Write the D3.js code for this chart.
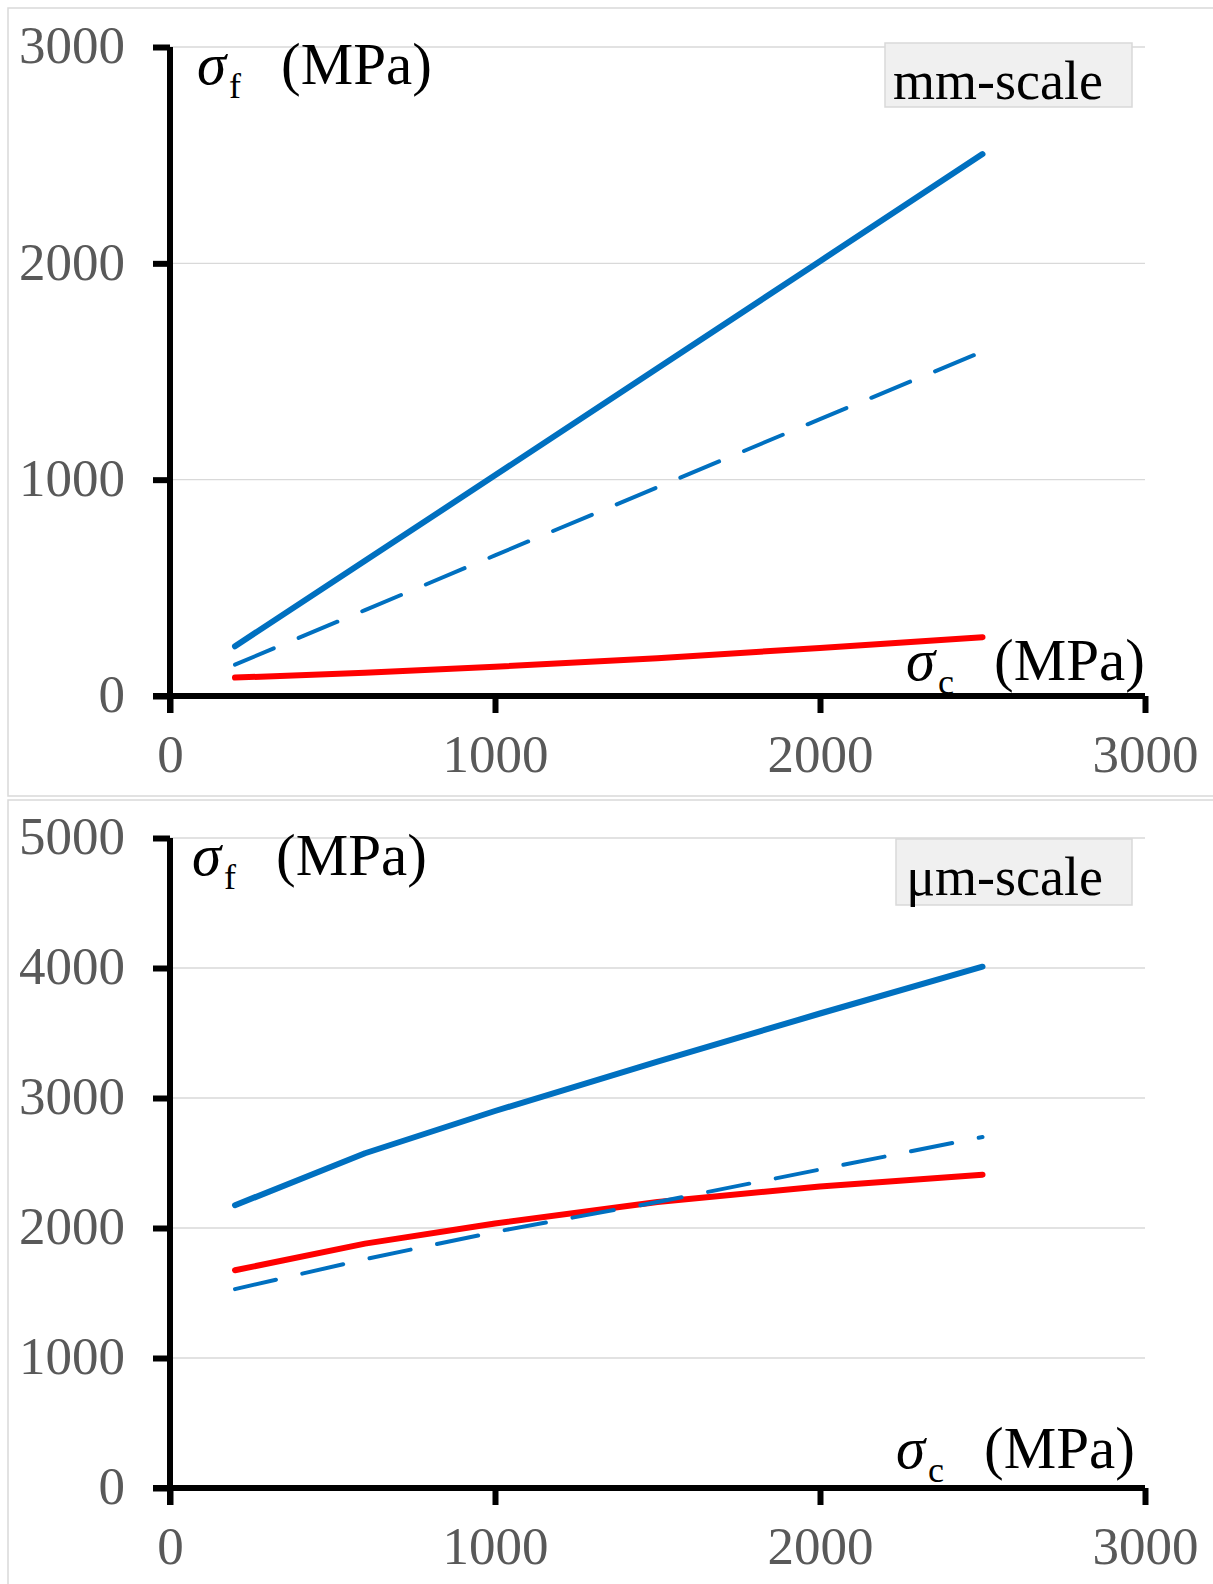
<!DOCTYPE html>
<html><head><meta charset="utf-8">
<script src="https://cdn.jsdelivr.net/npm/d3@7"></script>
<style>body{margin:0;background:#fff}svg{display:block}</style>
</head><body>
<svg id="c" width="1213" height="1584"></svg>
<script>
// ---- data ----
const xValues = [200, 600, 1000, 1500, 2000, 2500];
const xTicks = [0, 1000, 2000, 3000];
// mm-scale panel
const mmSolidBlue = [230, 625, 1020, 1515, 2010, 2505];
const mmDashedBlue = [145, 397, 650, 965, 1280, 1592];
const mmRed = [85, 108, 135, 175, 222, 272];
const mmYTicks = [0, 1000, 2000, 3000];
// µm-scale panel
const umSolidBlue = [2175, 2575, 2900, 3280, 3650, 4010];
const umDashedBlue = [1530, 1760, 1970, 2200, 2450, 2700];
const umRed = [1675, 1880, 2035, 2200, 2320, 2410];
const umYTicks = [0, 1000, 2000, 3000, 4000, 5000];
const panelLabels = ["mm-scale", "\u03bcm-scale"];

const svg = d3.select("#c");
const FONT = "'Liberation Serif','Times New Roman',serif";

function panel(cfg) {
  const g = svg.append("g");
  g.append("rect").attr("x", cfg.box[0]).attr("y", cfg.box[1])
    .attr("width", cfg.box[2]).attr("height", cfg.box[3])
    .attr("fill", "#fff").attr("stroke", "#d9d9d9").attr("stroke-width", 1.5);
  const x = d3.scaleLinear().domain([0, 3000]).range([170, 1145]);
  const y = d3.scaleLinear().domain([0, cfg.ymax]).range([cfg.y0, cfg.ytop]);
  g.selectAll(".grid").data(cfg.yticks.filter(d => d > 0)).join("line")
    .attr("x1", x(0)).attr("x2", x(3000))
    .attr("y1", d => y(d)).attr("y2", d => y(d))
    .attr("stroke", "#d9d9d9").attr("stroke-width", 1.3);
  const xa = d3.axisBottom(x).tickValues(xTicks).tickSize(17).tickSizeOuter(0).tickPadding(19).tickFormat(d3.format("d"));
  const ya = d3.axisLeft(y).tickValues(cfg.yticks).tickSize(17).tickSizeOuter(0).tickPadding(28).tickFormat(d3.format("d"));
  const gx = g.append("g").attr("transform", `translate(0,${y(0)})`).call(xa);
  const gy = g.append("g").attr("transform", `translate(${x(0)},0)`).call(ya);
  [gx, gy].forEach(a => {
    a.select(".domain").attr("stroke", "#000").attr("stroke-width", 6);
    a.selectAll(".tick line").attr("stroke", "#000").attr("stroke-width", 6);
    a.selectAll(".tick text").attr("fill", "#595959").attr("font-family", FONT).attr("font-size", 53);
  });
  gx.selectAll(".tick text").attr("dy", "0.75em");
  gy.selectAll(".tick text").attr("dy", "0.3em");
  gx.select(".domain").attr("d", `M${x(0) - 17},0H${x(3000)}`);
  gy.select(".domain").attr("d", `M0,${y(cfg.ymax)}V${y(0) + 17}`);

  const line = d3.line().x((d, i) => x(xValues[i])).y(d => y(d));
  const series = [
    {v: cfg.red, c: "#ff0000", w: 6, dash: null},
    {v: cfg.dashed, c: "#0070c0", w: 4, dash: "42 27"},
    {v: cfg.solid, c: "#0070c0", w: 6, dash: null}
  ];
  g.selectAll(".series").data(series).join("path")
    .attr("d", d => line(d.v)).attr("fill", "none")
    .attr("stroke", d => d.c).attr("stroke-width", d => d.w)
    .attr("stroke-dasharray", d => d.dash).attr("stroke-linecap", "round")
    .attr("stroke-linejoin", "round");

  function title(pos, sub) {
    const t = g.append("text").attr("x", pos[0]).attr("y", pos[1])
      .attr("font-family", FONT).attr("font-size", 59).attr("fill", "#000");
    t.append("tspan").attr("font-style", "italic").text("\u03c3");
    t.append("tspan").attr("font-size", 36).attr("dy", 14).attr("dx", 3).text(sub);
    t.append("tspan").attr("dy", -14).attr("dx", 40).text("(MPa)");
  }
  title(cfg.ytitle, "f");
  title(cfg.xtitle, "c");
  g.append("rect").attr("x", cfg.lbox[0]).attr("y", cfg.lbox[1])
    .attr("width", cfg.lbox[2]).attr("height", cfg.lbox[3])
    .attr("fill", "#f0f0f0").attr("stroke", "#d9d9d9").attr("stroke-width", 1.5);
  g.append("text").attr("x", cfg.lbox[0] + cfg.lbox[2] - 29).attr("y", cfg.lbox[1] + 56)
    .attr("text-anchor", "end").attr("font-family", FONT).attr("font-size", 54)
    .attr("fill", "#000").text(cfg.label);
}

panel({box: [8, 8, 1210, 788], ymax: 3000, y0: 696, ytop: 47, yticks: mmYTicks,
  solid: mmSolidBlue, dashed: mmDashedBlue, red: mmRed,
  ytitle: [197, 84], xtitle: [906, 680], lbox: [885, 43, 247, 64], label: panelLabels[0]});
panel({box: [8, 800, 1210, 790], ymax: 5000, y0: 1488, ytop: 838, yticks: umYTicks,
  solid: umSolidBlue, dashed: umDashedBlue, red: umRed,
  ytitle: [192, 875], xtitle: [896, 1468], lbox: [896, 839, 236, 66], label: panelLabels[1]});
</script>
</body></html>
